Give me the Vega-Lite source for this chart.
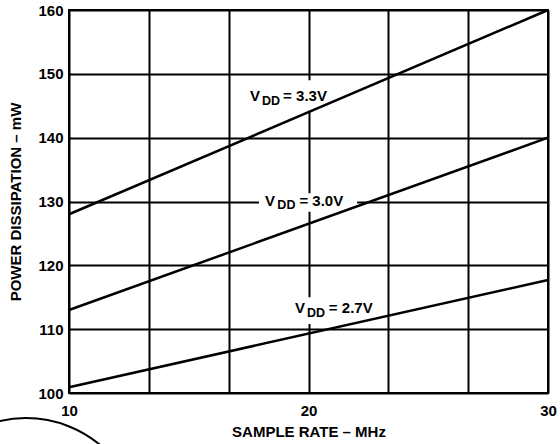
{
  "$schema": "https://vega.github.io/schema/vega-lite/v6.json",
  "width": 479,
  "height": 383,
  "autosize": "none",
  "padding": {"left": 69, "top": 10, "right": 12, "bottom": 51},
  "background": "white",
  "config": {
    "font": "Liberation Sans",
    "view": {"stroke": "black", "strokeWidth": 2},
    "axis": {"gridColor": "black", "gridWidth": 2, "gridOpacity": 1, "domain": false, "ticks": false, "labelFont": "Liberation Sans", "labelFontWeight": "bold", "labelFontSize": 15, "labelColor": "black", "titleFont": "Liberation Sans", "titleFontWeight": "bold", "titleFontSize": 15, "titleColor": "black", "labelFlush": false, "labelOverlap": false}
  },
  "datasets": {
    "lines": [
      {"series": "3.3V", "rate": 10, "power": 128},
      {"series": "3.3V", "rate": 30, "power": 160},
      {"series": "3.0V", "rate": 10, "power": 113},
      {"series": "3.0V", "rate": 30, "power": 140},
      {"series": "2.7V", "rate": 10, "power": 100.9},
      {"series": "2.7V", "rate": 30, "power": 117.7}
    ],
    "boxes": [
      {"series": "3.3V", "x1": 17.3, "x2": 20.8, "y1": 144.2, "y2": 149.0},
      {"series": "3.0V", "x1": 17.93, "x2": 22.03, "y1": 128.4, "y2": 131.3},
      {"series": "2.7V", "x1": 19.23, "x2": 22.99, "y1": 110.8, "y2": 115.0}
    ],
    "labels": [
      {"series": "3.3V", "vx": 17.56, "vy": 145.75, "sx": 18.06, "sy": 145.12, "ex": 18.94, "rest": "= 3.3V"},
      {"series": "3.0V", "vx": 18.18, "vy": 129.3, "sx": 18.7, "sy": 128.75, "ex": 19.62, "rest": "= 3.0V"},
      {"series": "2.7V", "vx": 19.44, "vy": 112.53, "sx": 19.94, "sy": 111.85, "ex": 20.85, "rest": "= 2.7V"}
    ],
    "mark": [
      {"cx": 8.2, "cy": 77.9}
    ]
  },
  "layer": [
    {
      "data": {"name": "boxes"},
      "mark": {"type": "rect", "color": "white"},
      "encoding": {
        "x": {"field": "x1", "type": "quantitative", "scale": {"domain": [10, 30], "nice": false, "zero": false},
          "axis": {"values": [10, 13.333333, 16.666667, 20, 23.333333, 26.666667, 30], "labelExpr": "datum.value % 10 === 0 ? datum.label : ''", "labelPadding": 10, "title": "SAMPLE RATE – MHz", "titlePadding": 6}},
        "x2": {"field": "x2"},
        "y": {"field": "y1", "type": "quantitative", "scale": {"domain": [100, 160], "nice": false, "zero": false},
          "axis": {"values": [100, 110, 120, 130, 140, 150, 160], "labelPadding": 6, "title": "POWER DISSIPATION – mW", "titlePadding": 14}},
        "y2": {"field": "y2"}
      }
    },
    {
      "data": {"name": "lines"},
      "mark": {"type": "line", "color": "black", "strokeWidth": 2.5},
      "encoding": {
        "x": {"field": "rate", "type": "quantitative"},
        "y": {"field": "power", "type": "quantitative"},
        "detail": {"field": "series"}
      }
    },
    {
      "data": {"name": "labels"},
      "mark": {"type": "text", "align": "left", "baseline": "alphabetic", "fontSize": 15, "fontWeight": "bold", "color": "black"},
      "encoding": {
        "x": {"field": "vx", "type": "quantitative"},
        "y": {"field": "vy", "type": "quantitative"},
        "text": {"value": "V"}
      }
    },
    {
      "data": {"name": "labels"},
      "mark": {"type": "text", "align": "left", "baseline": "alphabetic", "fontSize": 12.5, "fontWeight": "bold", "color": "black"},
      "encoding": {
        "x": {"field": "sx", "type": "quantitative"},
        "y": {"field": "sy", "type": "quantitative"},
        "text": {"value": "DD"}
      }
    },
    {
      "data": {"name": "labels"},
      "mark": {"type": "text", "align": "left", "baseline": "alphabetic", "fontSize": 15, "fontWeight": "bold", "color": "black"},
      "encoding": {
        "x": {"field": "ex", "type": "quantitative"},
        "y": {"field": "vy", "type": "quantitative"},
        "text": {"field": "rest"}
      }
    },
    {
      "data": {"name": "mark"},
      "mark": {"type": "point", "shape": "circle", "filled": false, "stroke": "black", "strokeWidth": 2, "size": 53824, "opacity": 1},
      "encoding": {
        "x": {"field": "cx", "type": "quantitative"},
        "y": {"field": "cy", "type": "quantitative"}
      }
    }
  ]
}
